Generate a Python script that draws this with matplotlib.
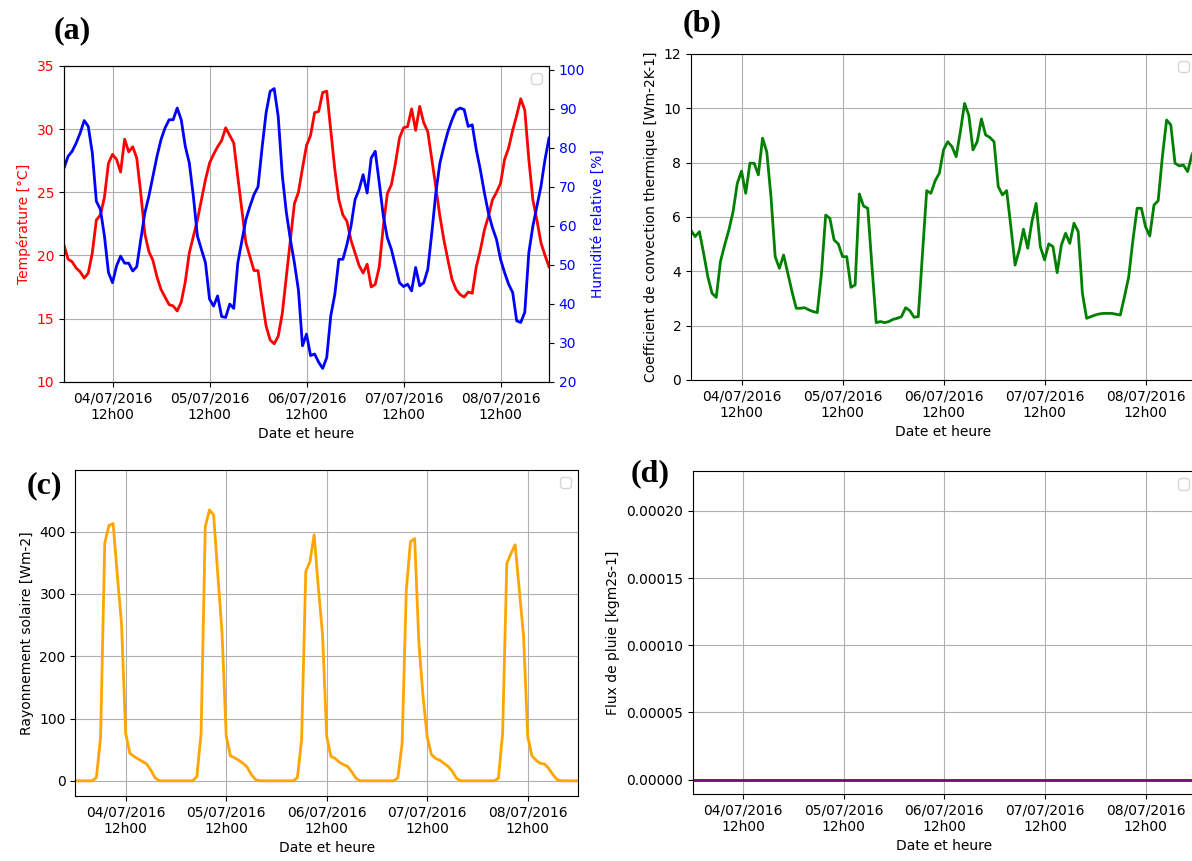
import matplotlib
matplotlib.use("Agg")
import matplotlib.pyplot as plt
import matplotlib.dates as mdates
from matplotlib.ticker import FormatStrFormatter
import pandas as pd

# pas de temps horaire du 04/07/2016 00h00 au 09/07/2016 00h00
dates = pd.date_range("2016-07-04 00:00", periods=121, freq="h")

temperature = [
    20.8, 19.7, 19.5, 19.0, 18.7, 18.2, 18.6, 20.2, 22.8, 23.2, 24.6, 27.3,
    28.0, 27.6, 26.6, 29.2, 28.2, 28.6, 27.7, 24.9, 21.7, 20.3, 19.6, 18.3,
    17.3, 16.7, 16.1, 16.0, 15.6, 16.3, 17.9, 20.2, 21.5, 22.8, 24.4, 26.0,
    27.3, 28.0, 28.6, 29.1, 30.1, 29.5, 28.9, 26.2, 23.6, 21.0, 19.9, 18.8,
    18.8, 16.5, 14.4, 13.3, 13.0, 13.6, 15.4, 18.3, 21.2, 24.1, 25.0, 26.9,
    28.7, 29.5, 31.3, 31.4, 32.9, 33.0, 29.9, 26.8, 24.4, 23.2, 22.7, 21.2,
    20.2, 19.2, 18.6, 19.3, 17.5, 17.7, 19.1, 22.3, 24.9, 25.6, 27.3, 29.3,
    30.1, 30.2, 31.6, 29.9, 31.8, 30.5, 29.8, 27.6, 25.4, 23.1, 21.2, 19.6,
    18.1, 17.3, 16.9, 16.7, 17.1, 17.0, 19.1, 20.4, 22.0, 23.1, 24.4, 25.0,
    25.7, 27.6, 28.5, 29.9, 31.1, 32.4, 31.5, 27.6, 24.4, 22.8, 21.0, 20.0,
    19.1,
]

humidite = [
    74.8, 77.8, 79.1, 81.2, 83.8, 87.0, 85.5, 78.7, 66.3, 64.2, 57.4, 48.0,
    45.4, 49.7, 52.2, 50.4, 50.4, 48.4, 49.5, 56.5, 63.3, 67.6, 72.7, 77.8,
    82.1, 85.1, 87.2, 87.2, 90.2, 87.2, 80.4, 76.1, 67.6, 57.4, 53.9, 50.5,
    41.2, 39.4, 42.0, 36.7, 36.5, 39.9, 38.8, 50.5, 56.1, 61.6, 65.0, 68.0,
    70.0, 80.0, 89.0, 94.5, 95.2, 88.0, 73.0, 63.5, 56.5, 50.5, 43.5, 29.2,
    32.2, 26.7, 27.1, 25.0, 23.4, 26.2, 36.9, 42.4, 51.4, 51.4, 55.2, 59.9,
    66.7, 69.3, 73.1, 68.4, 77.4, 79.1, 71.0, 62.5, 56.9, 53.9, 49.7, 45.4,
    44.4, 45.0, 43.3, 49.3, 44.6, 45.4, 48.8, 58.2, 68.5, 76.1, 80.4, 84.2,
    87.2, 89.6, 90.2, 89.8, 85.5, 85.9, 79.5, 74.4, 68.5, 63.3, 59.5, 56.5,
    51.4, 48.0, 45.0, 42.9, 35.6, 35.2, 37.8, 53.1, 59.9, 65.0, 70.1, 77.0,
    82.5,
]

convection = [
    5.50, 5.28, 5.46, 4.66, 3.80, 3.19, 3.04, 4.36, 4.97, 5.52, 6.20, 7.24,
    7.69, 6.87, 7.98, 7.98, 7.55, 8.90, 8.40, 6.75, 4.54, 4.11, 4.60, 3.93,
    3.25, 2.64, 2.64, 2.66, 2.58, 2.52, 2.48, 3.93, 6.07, 5.95, 5.15, 5.01,
    4.54, 4.54, 3.41, 3.50, 6.85, 6.40, 6.32, 4.17, 2.11, 2.15, 2.11, 2.15,
    2.23, 2.27, 2.33, 2.66, 2.55, 2.31, 2.33, 4.65, 6.97, 6.87, 7.33, 7.61,
    8.47, 8.77, 8.59, 8.22, 9.14, 10.18, 9.75, 8.47, 8.77, 9.61, 9.02, 8.93,
    8.77, 7.12, 6.81, 6.97, 5.64, 4.23, 4.79, 5.55, 4.85, 5.83, 6.50, 4.91,
    4.42, 5.01, 4.91, 3.95, 4.97, 5.40, 5.03, 5.77, 5.46, 3.19, 2.27, 2.33,
    2.39, 2.43, 2.45, 2.45, 2.45, 2.42, 2.39, 3.07, 3.80, 5.15, 6.32, 6.32,
    5.64, 5.30, 6.44, 6.60, 8.22, 9.57, 9.39, 7.98, 7.88, 7.91, 7.67, 8.28,
    8.60,
]

rayonnement = [
    0, 0, 0, 0, 0, 5, 70, 382, 410, 413, 330, 252,
    76, 44, 39, 35, 31, 27, 17, 5, 0, 0, 0, 0,
    0, 0, 0, 0, 0, 7, 76, 408, 435, 427, 330, 238,
    72, 40, 37, 33, 28, 22, 10, 2, 0, 0, 0, 0,
    0, 0, 0, 0, 0, 5, 66, 336, 352, 395, 310, 235,
    71, 39, 36, 30, 26, 23, 14, 4, 0, 0, 0, 0,
    0, 0, 0, 0, 0, 5, 60, 306, 384, 389, 222, 135,
    70, 42, 36, 33, 28, 23, 15, 4, 0, 0, 0, 0,
    0, 0, 0, 0, 0, 4, 76, 349, 365, 379, 305, 232,
    71, 40, 33, 28, 27, 20, 10, 2, 0, 0, 0, 0,
    0,
]

pluie = [0.0] * len(dates)

fig = plt.figure(figsize=(11.92, 8.61), dpi=100)


def axe_dates(ax):
    ax.xaxis.set_major_locator(mdates.HourLocator(byhour=12))
    ax.xaxis.set_major_formatter(mdates.DateFormatter("%d/%m/%Y\n%Hh%M"))
    ax.set_xlim(dates[0], dates[-1])
    ax.set_xlabel("Date et heure")


# (a) température et humidité
ax1 = fig.add_axes([0.0537, 0.5567, 0.4069, 0.3667])
ax1.plot(dates, temperature, color="red", linewidth=2)
ax1.set_ylim(10, 35)
ax1.set_ylabel("Température [°C]", color="red")
ax1.tick_params(axis="y", labelcolor="red")
ax1.grid(True)
axe_dates(ax1)
ax2 = ax1.twinx()
ax2.plot(dates, humidite, color="blue", linewidth=2)
ax2.set_ylim(20, 101)
ax2.set_ylabel("Humidité relative [%]", color="blue")
ax2.tick_params(axis="y", labelcolor="blue")
ax2.legend(handles=[], loc="upper right")

# (b) coefficient de convection
axb = fig.add_axes([0.5797, 0.5587, 0.4237, 0.3786])
axb.plot(dates, convection, color="green", linewidth=2)
axb.set_ylim(0, 12)
axb.set_ylabel("Coefficient de convection thermique [Wm-2K-1]")
axb.grid(True)
axe_dates(axb)
axb.legend(handles=[], loc="upper right")

# (c) rayonnement solaire
axc = fig.add_axes([0.0633, 0.0758, 0.4216, 0.3783])
axc.plot(dates, rayonnement, color="orange", linewidth=2)
axc.set_ylim(-24, 499)
axc.set_yticks([0, 100, 200, 300, 400])
axc.set_ylabel("Rayonnement solaire [Wm-2]")
axc.grid(True)
axe_dates(axc)
axc.legend(handles=[], loc="upper right")

# (d) flux de pluie
axd = fig.add_axes([0.5810, 0.0778, 0.4224, 0.3746])
axd.plot(dates, pluie, color="purple", linewidth=2)
axd.set_ylim(-0.0000108, 0.0002294)
axd.set_yticks([0, 0.00005, 0.0001, 0.00015, 0.0002])
axd.yaxis.set_major_formatter(FormatStrFormatter("%.5f"))
axd.set_ylabel("Flux de pluie [kgm2s-1]")
axd.grid(True)
axe_dates(axd)
axd.legend(handles=[], loc="upper right")

# lettres des panneaux
lettre = dict(fontsize=23, fontweight="bold", family="Liberation Serif",
              ha="center", va="center")
fig.text(72 / 1192, 1 - 31 / 861, "(a)", **lettre)
fig.text(702 / 1192, 1 - 24 / 861, "(b)", **lettre)
fig.text(44 / 1192, 1 - 486 / 861, "(c)", **lettre)
fig.text(650 / 1192, 1 - 474 / 861, "(d)", **lettre)

fig.savefig("out.png", dpi=100)
